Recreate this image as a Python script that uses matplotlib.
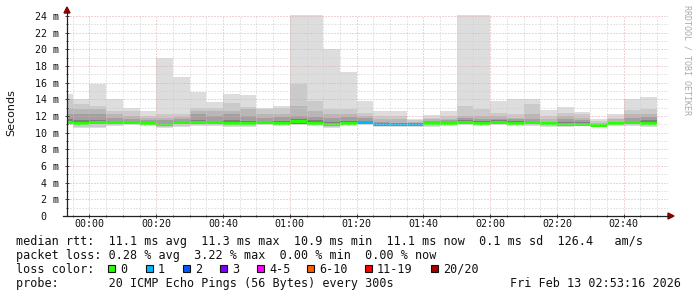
import numpy as np
import matplotlib
matplotlib.use("Agg")
import matplotlib.pyplot as plt
from matplotlib.lines import Line2D
from matplotlib.patches import Polygon, Rectangle

# ---------------- data (ms), one value per 5-minute step -----------------
# first step ends 23:55 (minutes relative to 00:00), last step ends 02:50
first_step_end = -5
step_minutes = 5

ping_max = [14.7, 14.0, 15.8, 14.0, 13.0, 12.6, 19.0, 16.7, 14.9, 13.7,
            14.7, 14.5, 13.0, 13.2, 27.0, 27.0, 20.0, 17.3, 13.8, 12.6,
            12.6, 11.7, 12.1, 12.6, 27.0, 27.0, 13.8, 14.0, 14.0, 12.7,
            13.1, 12.5, 11.6, 12.2, 14.1, 14.3]
ping_19 = [14.0, 13.4, 13.2, 12.6, 12.6, 12.0, 12.2, 12.2, 13.0, 13.0,
           13.6, 13.1, 12.9, 13.0, 15.8, 13.8, 12.8, 12.8, 12.4, 12.0,
           12.0, 11.5, 11.8, 12.0, 13.2, 12.8, 12.4, 12.2, 13.4, 12.0,
           12.4, 12.2, 11.4, 11.8, 12.7, 12.9]
ping_18 = [13.0, 12.8, 12.8, 12.2, 12.0, 11.8, 11.8, 11.9, 12.6, 12.6,
           12.6, 12.8, 12.2, 12.2, 13.2, 12.6, 12.2, 12.2, 12.0, 11.6,
           11.6, 11.3, 11.6, 11.6, 12.0, 12.0, 12.0, 11.8, 12.2, 11.6,
           12.0, 11.8, 11.2, 11.6, 12.2, 12.2]
ping_16 = [12.2, 12.2, 12.2, 11.8, 11.6, 11.5, 11.5, 11.6, 12.2, 12.0,
           12.2, 12.0, 11.8, 11.9, 12.0, 11.9, 11.8, 11.9, 11.8, 11.3,
           11.2, 11.2, 11.4, 11.5, 11.8, 11.7, 11.6, 11.6, 11.7, 11.3,
           11.6, 11.5, 11.0, 11.3, 11.8, 11.9]
ping_13 = [11.6, 11.5, 11.5, 11.4, 11.4, 11.3, 11.2, 11.4, 11.5, 11.4,
           11.5, 11.4, 11.4, 11.4, 11.6, 11.5, 11.3, 11.4, 11.4, 11.1,
           11.1, 11.1, 11.3, 11.3, 11.5, 11.4, 11.5, 11.4, 11.4, 11.3,
           11.3, 11.3, 11.0, 11.3, 11.4, 11.5]
median = [11.2, 11.1, 11.2, 11.2, 11.2, 11.1, 11.0, 11.2, 11.2, 11.2,
          11.1, 11.1, 11.2, 11.1, 11.3, 11.1, 11.0, 11.1, 11.2, 11.0,
          11.0, 11.0, 11.1, 11.1, 11.2, 11.1, 11.2, 11.1, 11.2, 11.1,
          11.0, 11.0, 10.9, 11.1, 11.2, 11.1]
ping_4 = [11.1, 10.9, 11.0, 11.0, 11.1, 11.0, 10.9, 11.0, 11.0, 11.0,
          11.0, 11.0, 11.1, 11.0, 11.1, 11.0, 10.9, 11.0, 11.1, 10.9,
          10.9, 10.9, 11.0, 11.0, 11.1, 11.0, 11.1, 11.0, 11.0, 11.0,
          10.9, 10.9, 10.8, 11.0, 11.0, 11.0]
ping_2 = [11.0, 10.7, 10.7, 10.9, 11.0, 10.9, 10.7, 10.8, 10.9, 10.9,
          10.8, 10.8, 11.0, 10.9, 11.0, 10.9, 10.7, 10.9, 11.0, 10.8,
          10.8, 10.8, 10.8, 10.9, 11.0, 10.9, 11.0, 10.9, 10.9, 10.8,
          10.8, 10.9, 10.8, 10.9, 10.9, 10.8]
ping_min = [10.95, 10.55, 10.55, 10.75, 10.9, 10.85, 10.55, 10.65, 10.75, 10.75,
            10.65, 10.7, 10.95, 10.75, 10.95, 10.75, 10.55, 10.75, 10.9, 10.65,
            10.65, 10.7, 10.7, 10.75, 10.9, 10.75, 10.9, 10.75, 10.75, 10.7,
            10.65, 10.75, 10.7, 10.75, 10.85, 10.7]
loss = [0, 0, 0, 0, 0, 0, 0, 0, 0, 0,
        0, 0, 0, 0, 0, 0, 0, 0, 1, 1,
        1, 1, 0, 0, 0, 0, 0, 0, 0, 0,
        0, 0, 0, 0, 0, 0]

loss_labels = ["0", "1", "2", "3", "4-5", "6-10", "11-19", "20/20"]
loss_colors = ["#26ff00", "#00b8ff", "#0059ff", "#7e00ff", "#ff00ff",
               "#ff5e00", "#ff0000", "#a10000"]

x_tick_minutes = [0, 20, 40, 60, 80, 100, 120, 140, 160]
x_tick_labels = ["00:00", "00:20", "00:40", "01:00", "01:20", "01:40",
                 "02:00", "02:20", "02:40"]
y_ticks = [0, 2, 4, 6, 8, 10, 12, 14, 16, 18, 20, 22, 24]
y_tick_labels = ["0  ", "2 m", "4 m", "6 m", "8 m", "10 m", "12 m", "14 m",
                 "16 m", "18 m", "20 m", "22 m", "24 m"]

view_start, view_end = -6.733, 173.267   # 23:53:16 .. 02:53:16

legend_line1 = "median rtt:  11.1 ms avg  11.3 ms max  10.9 ms min  11.1 ms now  0.1 ms sd  126.4   am/s"
legend_line2 = "packet loss: 0.28 % avg  3.22 % max  0.00 % min  0.00 % now"
legend_line3 = "loss color:"
legend_line4 = "probe:       20 ICMP Echo Pings (56 Bytes) every 300s"
date_text = "Fri Feb 13 02:53:16 2026"

# ---------------- figure -----------------
W, H = 697, 297
fig = plt.figure(figsize=(W / 100, H / 100), dpi=100, facecolor="white")

def fx(px):
    return px / W

def fy(py):
    return 1 - py / H

ax = fig.add_axes([fx(67), fy(216), fx(668) - fx(67), (216 - 15) / H])
ax.set_facecolor("white")

n = len(median)
edges = first_step_end - step_minutes + step_minutes * np.arange(n + 1)

def stepped(vals):
    v = np.asarray(vals, dtype=float)
    return np.append(v, v[-1])

bands = [
    (ping_min, ping_max, "#dddddd"),
    (ping_2, ping_19, "#cacaca"),
    (ping_4, ping_18, "#b7b7b7"),
    (ping_4, ping_16, "#a0a0a0"),
    (ping_4, ping_13, "#7e7e7e"),
]
for lo, hi, col in bands:
    ax.fill_between(edges, stepped(lo), stepped(hi), step="post",
                    color=col, linewidth=0, zorder=1)

med = np.asarray(median)
half = 0.18
ax.bar(edges[:-1], 2 * half, bottom=med - half, width=step_minutes,
       align="edge", color=[loss_colors[l] for l in loss], linewidth=0,
       antialiased=False, zorder=1.5)

ax.set_xlim(view_start, view_end)
ax.set_ylim(0, 24.12)

ax.set_xticks(x_tick_minutes)
ax.set_xticklabels(x_tick_labels)
ax.set_xticks(np.arange(-5, 175, 5), minor=True)
ax.set_yticks(y_ticks)
ax.set_yticklabels(y_tick_labels)
ax.set_yticks(np.arange(1, 24, 2), minor=True)

ax.set_axisbelow(False)
ax.grid(which="major", color="#e6a8a8", linestyle=(0, (1, 2)),
        linewidth=0.72)
ax.grid(which="minor", color="#cfcfcf", linestyle=(0, (1, 2)),
        linewidth=0.72)

mono = "DejaVu Sans Mono"
ax.tick_params(axis="both", which="major", length=3, width=0.7,
               direction="inout", color="#444444", labelsize=7.2,
               labelcolor="#111111")
ax.tick_params(axis="both", which="minor", length=2, width=0.7,
               direction="inout", color="#444444")
ax.tick_params(axis="y", pad=4)
ax.tick_params(axis="x", pad=1)
for lab in ax.get_xticklabels() + ax.get_yticklabels():
    lab.set_fontfamily(mono)
for sp in ax.spines.values():
    sp.set_visible(False)

# axis lines with arrows
fig.add_artist(Line2D([fx(67), fx(67)], [fy(216), fy(12)], color="#222222",
                      linewidth=0.9, transform=fig.transFigure))
fig.add_artist(Line2D([fx(63), fx(669)], [fy(216), fy(216)], color="#222222",
                      linewidth=0.9, transform=fig.transFigure))
fig.add_artist(Polygon([[fx(64), fy(13)], [fx(70), fy(13)], [fx(67), fy(7)]],
                       closed=True, color="#8b0000", transform=fig.transFigure))
fig.add_artist(Polygon([[fx(668), fy(213)], [fx(668), fy(219)], [fx(674), fy(216)]],
                       closed=True, color="#8b0000", transform=fig.transFigure))

# labels
fig.text(fx(11), fy(113), "Seconds", rotation=90, ha="center", va="center",
         fontsize=8, fontfamily="DejaVu Sans", color="#111111")
fig.text(fx(687), fy(5), "RRDTOOL / TOBI OETIKER", rotation=270, ha="center",
         va="top", fontsize=6, fontfamily=mono, color="#aaaaaa")

fs = 8.5
fig.text(fx(16), fy(245), legend_line1, ha="left", va="baseline",
         fontsize=fs, fontfamily=mono, color="#111111")
fig.text(fx(16), fy(259), legend_line2, ha="left", va="baseline",
         fontsize=fs, fontfamily=mono, color="#111111")
fig.text(fx(16), fy(273), legend_line3, ha="left", va="baseline",
         fontsize=fs, fontfamily=mono, color="#111111")
fig.text(fx(16), fy(287), legend_line4, ha="left", va="baseline",
         fontsize=fs, fontfamily=mono, color="#111111")
fig.text(fx(681), fy(287), date_text, ha="right", va="baseline",
         fontsize=fs, fontfamily=mono, color="#111111")

square_x = [108, 146, 183, 220, 257, 307, 365, 431]
for sx, lab, col in zip(square_x, loss_labels, loss_colors):
    fig.add_artist(Rectangle((fx(sx), fy(272)), 7 / W, 7 / H, facecolor=col,
                             edgecolor="#111111", linewidth=0.8,
                             transform=fig.transFigure))
    fig.text(fx(sx + 12), fy(273), lab, ha="left", va="baseline",
             fontsize=fs, fontfamily=mono, color="#111111")

fig.savefig("out.png", dpi=100, facecolor="white")
